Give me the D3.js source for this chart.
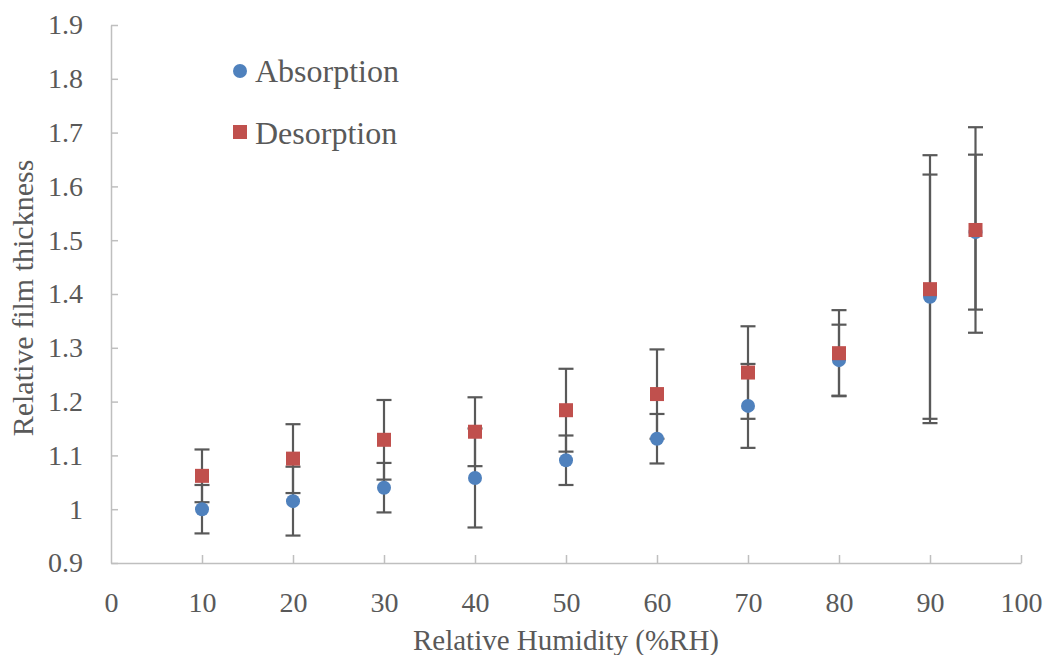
<!DOCTYPE html>
<html>
<head>
<meta charset="utf-8">
<script src="https://cdn.jsdelivr.net/npm/d3@7"></script>
<style>
  body { margin: 0; background: #fff; }
  svg { display: block; font-family: "Liberation Serif", "Times New Roman", serif; }
</style>
</head>
<body>
<svg id="chart" width="1047" height="655"></svg>
<script>
// Relative humidity (%RH)
var humidity = [10, 20, 30, 40, 50, 60, 70, 80, 90, 95];

// Absorption series and its error
var absorption = [1.000, 1.015, 1.040, 1.058, 1.091, 1.131, 1.192, 1.277, 1.395, 1.515];
var absorptionErr = [0.045, 0.064, 0.046, 0.092, 0.046, 0.046, 0.078, 0.066, 0.227, 0.144];

// Desorption series and its error
var desorption = [1.062, 1.094, 1.129, 1.144, 1.184, 1.214, 1.254, 1.290, 1.409, 1.519];
var desorptionErr = [0.049, 0.064, 0.074, 0.064, 0.077, 0.083, 0.086, 0.080, 0.249, 0.191];

// Tick labels
var xTicks = [0, 10, 20, 30, 40, 50, 60, 70, 80, 90, 100];
var yTicks = [0.9, 1.0, 1.1, 1.2, 1.3, 1.4, 1.5, 1.6, 1.7, 1.8, 1.9];
var yTickLabels = ['0.9', '1', '1.1', '1.2', '1.3', '1.4', '1.5', '1.6', '1.7', '1.8', '1.9'];

var margin = {top: 25, right: 26, bottom: 92, left: 111};
var svg = d3.select('#chart');
var width = +svg.attr('width') - margin.left - margin.right;
var height = +svg.attr('height') - margin.top - margin.bottom;

var textColor = '#595959';
var axisColor = '#bfbfbf';
var barColor = '#595959';
var blue = '#4f81bd';
var red = '#c0504d';

var g = svg.append('g').attr('transform', 'translate(' + margin.left + ',' + margin.top + ')');

var x = d3.scaleLinear().domain([0, 100]).range([0, width]);
var y = d3.scaleLinear().domain([0.9, 1.9]).range([height, 0]);

// X axis
var xAxis = g.append('g')
  .attr('transform', 'translate(0,' + height + ')')
  .call(d3.axisBottom(x).tickValues(xTicks).tickSizeInner(-8).tickSizeOuter(0).tickPadding(29));

// Y axis
var yAxis = g.append('g')
  .call(d3.axisLeft(y).tickValues(yTicks).tickSizeInner(-7).tickSizeOuter(0).tickPadding(28)
    .tickFormat(function(d, i) { return yTickLabels[i]; }));

[xAxis, yAxis].forEach(function(a) {
  a.select('.domain').attr('stroke', axisColor).attr('stroke-width', 1.5);
  a.selectAll('.tick line').attr('stroke', axisColor).attr('stroke-width', 1.5);
  a.selectAll('.tick text')
    .attr('fill', textColor)
    .style('font-size', '28px')
    .style('font-family', '"Liberation Serif", "Times New Roman", serif');
});
// the x = 0 tick sits on the y axis
xAxis.selectAll('.tick line').filter(function(d) { return d === 0; }).remove();

// Axis titles
svg.append('text')
  .attr('x', margin.left + width / 2)
  .attr('y', 650)
  .attr('text-anchor', 'middle')
  .attr('fill', textColor)
  .style('font-size', '29px')
  .text('Relative Humidity (%RH)');

svg.append('text')
  .attr('transform', 'translate(33,298) rotate(-90)')
  .attr('text-anchor', 'middle')
  .attr('fill', textColor)
  .style('font-size', '30px')
  .text('Relative film thickness');

// Error bars for both series, drawn under the markers
function drawErrorBars(values, errs, cls) {
  var data = values.map(function(v, i) { return {x: humidity[i], v: v, e: errs[i]}; });
  var bars = g.selectAll('g.' + cls)
    .data(data)
    .enter().append('g')
    .attr('class', cls)
    .attr('stroke', barColor)
    .attr('stroke-width', 2.2);

  bars.append('line')
    .attr('x1', function(d) { return x(d.x); })
    .attr('x2', function(d) { return x(d.x); })
    .attr('y1', function(d) { return y(d.v + d.e); })
    .attr('y2', function(d) { return y(d.v - d.e); });

  bars.append('line')
    .attr('x1', function(d) { return x(d.x) - 7.5; })
    .attr('x2', function(d) { return x(d.x) + 7.5; })
    .attr('y1', function(d) { return y(d.v + d.e); })
    .attr('y2', function(d) { return y(d.v + d.e); });

  bars.append('line')
    .attr('x1', function(d) { return x(d.x) - 7.5; })
    .attr('x2', function(d) { return x(d.x) + 7.5; })
    .attr('y1', function(d) { return y(d.v - d.e); })
    .attr('y2', function(d) { return y(d.v - d.e); });
}

drawErrorBars(absorption, absorptionErr, 'err-abs');
drawErrorBars(desorption, desorptionErr, 'err-des');

// Absorption markers
g.selectAll('circle.abs')
  .data(absorption)
  .enter().append('circle')
  .attr('class', 'abs')
  .attr('cx', function(d, i) { return x(humidity[i]); })
  .attr('cy', function(d) { return y(d); })
  .attr('r', 7)
  .attr('fill', blue);

// Desorption markers
g.selectAll('rect.des')
  .data(desorption)
  .enter().append('rect')
  .attr('class', 'des')
  .attr('x', function(d, i) { return x(humidity[i]) - 7; })
  .attr('y', function(d) { return y(d) - 7; })
  .attr('width', 14)
  .attr('height', 14)
  .attr('fill', red);

// Legend
var legend = svg.append('g');
legend.append('circle').attr('cx', 240).attr('cy', 71).attr('r', 7).attr('fill', blue);
legend.append('text').attr('x', 255).attr('y', 82).attr('fill', textColor)
  .style('font-size', '32px').text('Absorption');
legend.append('rect').attr('x', 233).attr('y', 125).attr('width', 14).attr('height', 14).attr('fill', red);
legend.append('text').attr('x', 255).attr('y', 144).attr('fill', textColor)
  .style('font-size', '32px').text('Desorption');
</script>
</body>
</html>
